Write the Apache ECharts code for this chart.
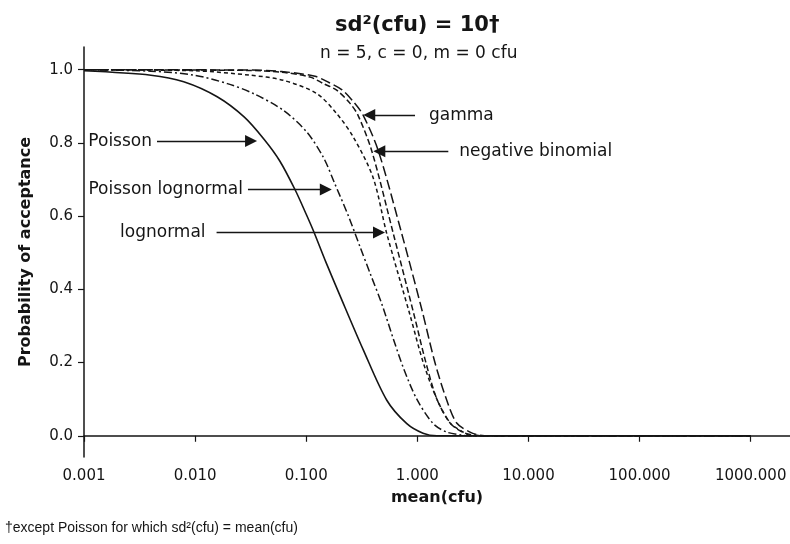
<!DOCTYPE html>
<html>
<head>
<meta charset="utf-8">
<script src="https://cdn.jsdelivr.net/npm/echarts@6/dist/echarts.min.js"></script>
<style>
  html, body { margin: 0; padding: 0; background: #ffffff; }
  #chart { width: 790px; height: 544px; }
</style>
</head>
<body>
<div id="chart"></div>
<script>
// Operating characteristic curves, n = 5, c = 0, m = 0 cfu
const poissonMean = [0.001, 0.004, 0.0079, 0.0158, 0.0276, 0.0417, 0.058, 0.08, 0.1, 0.116, 0.15, 0.2, 0.327, 0.531, 0.804, 1.125, 1.5, 1000];
const poissonP    = [0.997, 0.985, 0.967, 0.926, 0.871, 0.81, 0.75, 0.67, 0.605, 0.56, 0.475, 0.385, 0.234, 0.097, 0.033, 0.007, 0.0, 0.0];

const poisLogMean = [0.001, 0.004, 0.0098, 0.0195, 0.0334, 0.0622, 0.101, 0.143, 0.18, 0.24, 0.305, 0.38, 0.479, 0.6, 0.75, 0.989, 1.39, 1.84, 2.5, 3.0, 1000];
const poisLogP    = [1.0, 0.996, 0.985, 0.962, 0.935, 0.889, 0.83, 0.76, 0.69, 0.60, 0.516, 0.44, 0.36, 0.27, 0.185, 0.10, 0.033, 0.01, 0.002, 0.0, 0.0];

const logNormMean = [0.001, 0.01, 0.0312, 0.0622, 0.124, 0.188, 0.2655, 0.40, 0.531, 0.859, 1.13, 1.5, 1.97, 2.59, 3.1, 1000];
const logNormP    = [1.0, 0.997, 0.985, 0.971, 0.935, 0.88, 0.816, 0.705, 0.552, 0.33, 0.20, 0.10, 0.035, 0.01, 0.0, 0.0];

const negBinMean  = [0.001, 0.03, 0.06, 0.108, 0.143, 0.188, 0.248, 0.292, 0.389, 0.608, 0.953, 1.17, 1.5, 2.0, 2.6, 3.2, 4.0, 1000];
const negBinP     = [1.0, 0.998, 0.993, 0.98, 0.962, 0.944, 0.908, 0.876, 0.778, 0.552, 0.32, 0.21, 0.10, 0.033, 0.009, 0.002, 0.0, 0.0];

const gammaMean   = [0.001, 0.03, 0.06, 0.12, 0.16, 0.21, 0.27, 0.325, 0.446, 0.724, 1.097, 1.44, 1.84, 2.26, 2.98, 3.6, 4.5, 1000];
const gammaP      = [1.0, 0.999, 0.995, 0.982, 0.965, 0.945, 0.91, 0.876, 0.778, 0.552, 0.345, 0.20, 0.097, 0.035, 0.01, 0.002, 0.0, 0.0];

// Curve labels with their pointer arrows
const noteLabels = ['Poisson', 'Poisson lognormal', 'lognormal', 'gamma', 'negative binomial'];
const noteY      = [0.805, 0.673, 0.555, 0.876, 0.777];
const noteFrom   = [0.00454, 0.0299, 0.0156, 0.953, 1.90];
const noteTo     = [0.0319, 0.150, 0.452, 0.369, 0.455];
const noteGap    = [5, 5, 11, 14, 11];

const yTicks = [0, 0.2, 0.4, 0.6, 0.8, 1.0];

const ink = '#151515';
const FONT = 'DejaVu Sans';

function pairs(xs, ys) { return xs.map((x, i) => [x, ys[i]]); }

const noteLines = noteLabels.map((name, i) => [
  { coord: [noteFrom[i], noteY[i]], label: { formatter: name, distance: noteGap[i] } },
  { coord: [noteTo[i], noteY[i]] }
]);

function curve(name, xs, ys, dash, width) {
  return {
    name, type: 'line', data: pairs(xs, ys),
    showSymbol: false, smooth: 0.3,
    lineStyle: { color: ink, width: width, type: dash },
    animation: false, z: 3
  };
}

const chart = echarts.init(document.getElementById('chart'), null, { renderer: 'canvas' });
chart.setOption({
  backgroundColor: '#ffffff',
  animation: false,
  title: [
    { text: 'sd²(cfu) = 10†', left: 330, top: 10,
      textStyle: { fontFamily: FONT, fontWeight: 'bold', fontSize: 21, color: ink } },
    { text: 'n = 5, c = 0, m = 0 cfu', left: 315, top: 40,
      textStyle: { fontFamily: FONT, fontWeight: 'normal', fontSize: 17, color: ink } },
    { text: '†except Poisson for which sd²(cfu) = mean(cfu)', left: 0, top: 516,
      textStyle: { fontFamily: 'Liberation Sans', fontWeight: 'normal', fontSize: 14, color: ink } }
  ],
  grid: { left: 84, right: 0, top: 47, bottom: 87, containLabel: false },
  xAxis: {
    type: 'log', logBase: 10, min: 0.001, max: 2259,
    name: 'mean(cfu)', nameLocation: 'middle', nameGap: 33,
    nameTextStyle: { fontFamily: FONT, fontWeight: 'bold', fontSize: 16, color: ink },
    axisLine: { lineStyle: { color: ink, width: 1.5 } },
    axisTick: { length: 6, lineStyle: { color: ink, width: 1.2 } },
    axisLabel: { showMaxLabel: false, margin: 12, fontFamily: FONT, fontSize: 15, color: ink,
      formatter: v => Number(v).toFixed(3) },
    splitLine: { show: false },
    minorTick: { show: false }
  },
  yAxis: {
    type: 'value', min: -0.058, max: 1.062,
    name: 'Probability of acceptance', nameLocation: 'middle', nameGap: 50, nameRotate: 90,
    nameTextStyle: { fontFamily: FONT, fontWeight: 'bold', fontSize: 16, color: ink },
    axisLine: { show: true, lineStyle: { color: ink, width: 1.5 } },
    axisTick: { show: true, length: 6, customValues: yTicks, lineStyle: { color: ink, width: 1.2 } },
    axisLabel: { margin: 11, fontFamily: FONT, fontSize: 15, color: ink, customValues: yTicks,
      formatter: v => Number(v).toFixed(1) },
    splitLine: { show: false }
  },
  series: [
    Object.assign(curve('Poisson', poissonMean, poissonP, 'solid', 1.6), {
      markLine: {
        silent: true, animation: false,
        symbol: ['none', 'triangle'], symbolSize: 12,
        lineStyle: { color: ink, width: 1.4, type: 'solid' },
        label: { show: true, position: 'start', color: ink, fontFamily: FONT, fontSize: 17 },
        data: noteLines
      }
    }),
    curve('Poisson lognormal', poisLogMean, poisLogP, [8, 3, 2, 3], 1.5),
    curve('lognormal', logNormMean, logNormP, [4, 3], 1.5),
    curve('negative binomial', negBinMean, negBinP, [6, 3], 1.5),
    curve('gamma', gammaMean, gammaP, [10, 4], 1.5)
  ]
});
</script>
</body>
</html>
